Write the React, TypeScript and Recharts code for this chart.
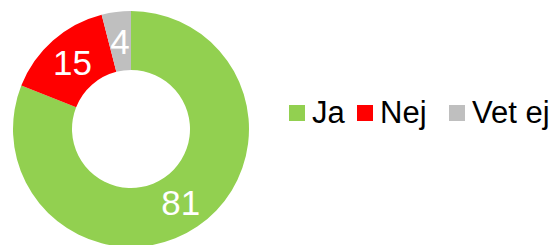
import { PieChart, Pie, Cell, Legend } from 'recharts';

const categories = ['Ja', 'Nej', 'Vet ej'];
const values = [81, 15, 4];
const colors = ['#92D050', '#FF0000', '#BFBFBF'];

const data = categories.map((name, i) => ({ name, value: values[i] }));

const RADIAN = Math.PI / 180;
const FONT = "'Liberation Sans', Arial, sans-serif";

function renderLabel(props: any) {
  const { cx, cy, midAngle, innerRadius, outerRadius, value } = props;
  const r = (innerRadius + outerRadius) / 2;
  const x = cx + r * Math.cos(-midAngle * RADIAN);
  const y = cy + r * Math.sin(-midAngle * RADIAN);
  return (
    <text
      x={x}
      y={y}
      fill="#FFFFFF"
      textAnchor="middle"
      dominantBaseline="central"
      fontSize={35}
      fontFamily={FONT}
    >
      {value}
    </text>
  );
}

// entry widths follow the reference spacing
const entryWidths = [68, 92, 108];

function LegendContent() {
  return (
    <div style={{ display: 'flex', alignItems: 'center', fontFamily: FONT, fontSize: 31, color: '#000', whiteSpace: 'nowrap' }}>
      {categories.map((c, i) => (
        <div key={c} style={{ display: 'flex', alignItems: 'center', width: entryWidths[i] }}>
          <div style={{ width: 16, height: 16, background: colors[i], marginRight: 7, flex: 'none' }} />
          <span>{c}</span>
        </div>
      ))}
    </div>
  );
}

export default function App() {
  return (
    <div style={{ position: 'absolute', left: 0, top: 0, background: '#fff' }}>
      <PieChart width={557} height={245} margin={{ top: 0, right: 0, bottom: 0, left: 0 }}>
        <Pie
          data={data}
          dataKey="value"
          nameKey="name"
          cx={131}
          cy={129}
          innerRadius={59}
          outerRadius={118}
          startAngle={90}
          endAngle={-270}
          stroke="none"
          label={renderLabel}
          labelLine={false}
          isAnimationActive={false}
        >
          {data.map((d, i) => (
            <Cell key={d.name} fill={colors[i]} />
          ))}
        </Pie>
        <Legend content={<LegendContent />} wrapperStyle={{ position: 'absolute', left: 289, top: 95, width: 'auto' }} />
      </PieChart>
    </div>
  );
}
